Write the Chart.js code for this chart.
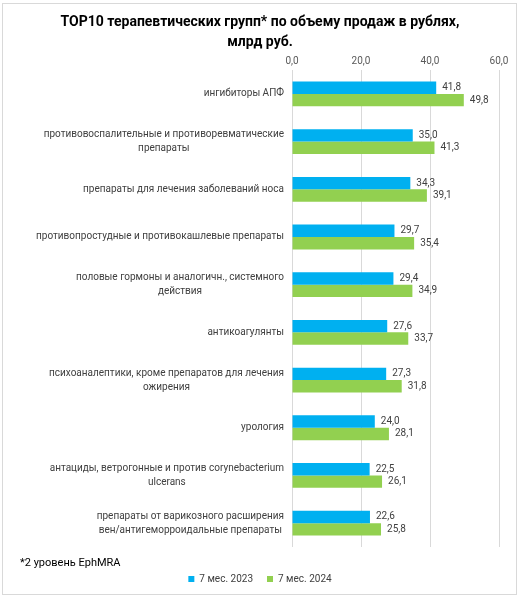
<!DOCTYPE html>
<html>
<head>
<meta charset="utf-8">
<script src="https://cdn.jsdelivr.net/npm/chart.js@4.4.0/dist/chart.umd.min.js"></script>
<style>
html,body{margin:0;padding:0;background:#fff;}
#wrap{position:relative;width:520px;height:600px;}
#frame{position:absolute;left:2px;top:3px;width:513px;height:590px;border:1px solid #d9d9d9;pointer-events:none;}
canvas{position:absolute;left:0;top:0;}
</style>
</head>
<body>
<div id="wrap"><canvas id="c" width="520" height="600"></canvas><div id="frame"></div></div>
<script>
const titleLines = ["TOP10 терапевтических групп* по объему продаж в рублях,", "млрд руб."];
const categories = [
  ["ингибиторы АПФ"],
  ["противовоспалительные и противоревматические", "препараты"],
  ["препараты для лечения заболеваний носа"],
  ["противопростудные и противокашлевые препараты"],
  ["половые гормоны и аналогичн., системного", "действия"],
  ["антикоагулянты"],
  ["психоаналептики, кроме препаратов для лечения", "ожирения"],
  ["урология"],
  ["антациды, ветрогонные и против corynebacterium", "ulcerans"],
  ["препараты от варикозного расширения", "вен/антигеморроидальные препараты"]
];
const seriesNames = ["7 мес. 2023", "7 мес. 2024"];
const values2023 = [41.8, 35.0, 34.3, 29.7, 29.4, 27.6, 27.3, 24.0, 22.5, 22.6];
const values2024 = [49.8, 41.3, 39.1, 35.4, 34.9, 33.7, 31.8, 28.1, 26.1, 25.8];
const footnote = "*2 уровень EphMRA";

const FONT = "Roboto, 'Liberation Sans', sans-serif";
const fmt = v => v.toFixed(1).replace('.', ',');

const labelPlugin = {
  id: 'customText',
  afterDraw(chart) {
    const ctx = chart.ctx;
    const y = chart.scales.y;
    ctx.save();
    ctx.font = "10px " + FONT;
    ctx.fillStyle = '#404040';
    ctx.textBaseline = 'middle';
    ctx.textAlign = 'center';
    const right = chart.chartArea.left - 8;
    const lh = 14;
    categories.forEach((lines, i) => {
      const cy = y.getPixelForTick(i);
      const w = Math.max(...lines.map(l => ctx.measureText(l).width));
      const cx = right - w / 2;
      lines.forEach((l, j) => {
        ctx.fillText(l, cx, cy + (j - (lines.length - 1) / 2) * lh);
      });
    });
    ctx.textAlign = 'left';
    chart.data.datasets.forEach((ds, di) => {
      const meta = chart.getDatasetMeta(di);
      meta.data.forEach((bar, i) => {
        ctx.fillText(fmt(ds.data[i]), bar.x + 6, bar.y);
      });
    });
    ctx.font = "11px " + FONT;
    ctx.fillStyle = '#000';
    ctx.fillText(footnote, 20, 563);
    ctx.restore();
  }
};

new Chart(document.getElementById('c'), {
  type: 'bar',
  data: {
    labels: categories,
    datasets: [
      { label: seriesNames[0], data: values2023, backgroundColor: '#00B0F0' },
      { label: seriesNames[1], data: values2024, backgroundColor: '#92D050' }
    ]
  },
  options: {
    indexAxis: 'y',
    responsive: false,
    animation: false,
    layout: { padding: { left: 0, right: 0, top: 0, bottom: 6 } },
    datasets: { bar: { categoryPercentage: 0.52, barPercentage: 1.0 } },
    scales: {
      x: {
        position: 'top',
        min: 0, max: 60,
        ticks: { stepSize: 20, callback: v => fmt(v), color: '#595959', font: { size: 10, family: FONT }, padding: 3 },
        grid: { color: '#d9d9d9', drawTicks: false },
        border: { display: false },
        afterFit(scale) { scale.height = 18; }
      },
      x2: {
        type: 'linear',
        position: 'bottom',
        min: 0, max: 60,
        ticks: { display: false },
        grid: { display: false },
        border: { display: false },
        afterFit(scale) { scale.height = 13; }
      },
      y: {
        ticks: { display: false },
        grid: { display: false },
        border: { display: false },
        afterFit(scale) { scale.width = 292; }
      },
      y2: {
        type: 'category',
        position: 'right',
        ticks: { display: false },
        grid: { display: false },
        border: { display: false },
        afterFit(scale) { scale.width = 21; }
      }
    },
    plugins: {
      title: {
        display: true,
        text: titleLines,
        color: '#000',
        font: { size: 14, weight: 'bold', family: FONT, lineHeight: 1.43 },
        padding: { top: 12, bottom: 0 }
      },
      legend: {
        position: 'bottom',
        labels: { boxWidth: 6, boxHeight: 6, color: '#404040', font: { size: 10, family: FONT }, padding: 14 }
      },
      tooltip: { enabled: false }
    }
  },
  plugins: [labelPlugin]
});
</script>
</body>
</html>
